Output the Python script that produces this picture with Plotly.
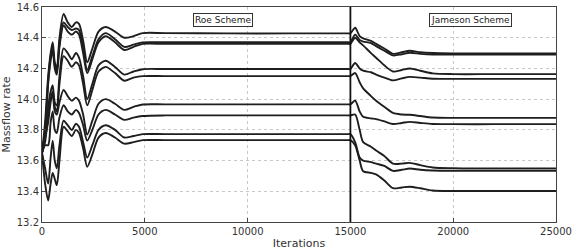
import plotly.graph_objects as go

# Iteration samples (Roe part then Jameson part)
ITERATIONS = [0, 150, 300, 420, 520, 620, 720, 850, 1050, 1250, 1450, 1650, 1800, 2000,
              2200, 2450, 2750, 3100, 3550, 4000, 4450, 4900, 6000, 9000, 12000, 14900,
              15000, 15230, 15450, 15620, 16000, 16250, 16650, 17070, 17500, 17890, 18400,
              19000, 20000, 22000, 25000]

SWITCH_ITER = 15000
X_TICKS = [0, 5000, 10000, 15000, 20000, 25000]
Y_TICKS = [13.2, 13.4, 13.6, 13.8, 14.0, 14.2, 14.4, 14.6]

series_a = [13.65, 13.85, 14.15, 14.30, 14.37, 14.24, 14.20, 14.40, 14.555, 14.50, 14.47, 14.50, 14.49, 14.38,
            14.24, 14.33, 14.44, 14.47, 14.44, 14.40, 14.41, 14.43, 14.43, 14.428, 14.428, 14.428,
            14.428, 14.465, 14.41, 14.395, 14.38, 14.36, 14.33, 14.295, 14.305, 14.315, 14.305, 14.30, 14.298, 14.298, 14.298]
series_b = [13.65, 13.80, 14.12, 14.28, 14.34, 14.22, 14.18, 14.36, 14.50, 14.47, 14.45, 14.46, 14.45, 14.33,
            14.19, 14.28, 14.39, 14.43, 14.39, 14.34, 14.355, 14.37, 14.37, 14.37, 14.37, 14.37,
            14.37, 14.42, 14.385, 14.375, 14.365, 14.345, 14.315, 14.285, 14.292, 14.302, 14.295, 14.29, 14.29, 14.29, 14.29]
series_c = [13.65, 13.78, 14.10, 14.25, 14.32, 14.20, 14.16, 14.34, 14.48, 14.44, 14.42, 14.44, 14.42, 14.30,
            14.17, 14.26, 14.37, 14.41, 14.37, 14.32, 14.34, 14.36, 14.36, 14.36, 14.36, 14.36,
            14.36, 14.40, 14.37, 14.35, 14.30, 14.27, 14.22, 14.18, 14.19, 14.20, 14.185, 14.168, 14.163, 14.163, 14.163]
series_d = [13.65, 13.75, 13.95, 14.05, 14.09, 13.98, 13.96, 14.15, 14.33, 14.30, 14.26, 14.30, 14.27, 14.15,
            14.00, 14.10, 14.22, 14.25, 14.21, 14.16, 14.18, 14.195, 14.196, 14.196, 14.196, 14.196,
            14.196, 14.235, 14.20, 14.185, 14.175, 14.16, 14.14, 14.122, 14.135, 14.145, 14.14, 14.133, 14.132, 14.132, 14.132]
series_e = [13.65, 13.72, 13.90, 14.00, 14.05, 13.95, 13.92, 14.10, 14.28, 14.25, 14.21, 14.24, 14.22, 14.10,
            13.96, 14.06, 14.18, 14.21, 14.17, 14.12, 14.14, 14.15, 14.15, 14.15, 14.15, 14.15,
            14.15, 14.17, 14.11, 14.07, 14.02, 13.99, 13.95, 13.91, 13.90, 13.898, 13.89, 13.88, 13.878, 13.878, 13.878]
series_f = [13.65, 13.75, 13.85, 13.98, 14.04, 13.92, 13.90, 13.98, 14.06, 14.02, 13.99, 14.01, 13.99, 13.90,
            13.77, 13.86, 13.97, 14.00, 13.97, 13.93, 13.95, 13.965, 13.966, 13.966, 13.966, 13.966,
            13.966, 13.99, 13.92, 13.885, 13.875, 13.87, 13.855, 13.838, 13.845, 13.852, 13.845, 13.838, 13.837, 13.837, 13.837]
series_g = [13.65, 13.70, 13.70, 13.85, 13.92, 13.80, 13.78, 13.88, 13.96, 13.92, 13.90, 13.93, 13.91, 13.83,
            13.73, 13.80, 13.90, 13.93, 13.90, 13.865, 13.88, 13.89, 13.894, 13.894, 13.894, 13.894,
            13.894, 13.90, 13.80, 13.72, 13.69, 13.665, 13.63, 13.58, 13.58, 13.585, 13.57, 13.555, 13.55, 13.548, 13.548]
series_h = [13.65, 13.55, 13.45, 13.62, 13.73, 13.60, 13.55, 13.70, 13.86, 13.83, 13.80, 13.84, 13.82, 13.72,
            13.62, 13.70, 13.80, 13.83, 13.80, 13.75, 13.76, 13.772, 13.772, 13.772, 13.772, 13.772,
            13.772, 13.72, 13.62, 13.60, 13.59, 13.58, 13.565, 13.533, 13.54, 13.548, 13.54, 13.535, 13.533, 13.533, 13.533]
series_i = [13.65, 13.45, 13.34, 13.45, 13.52, 13.48, 13.44, 13.60, 13.82, 13.79, 13.76, 13.80, 13.78, 13.68,
            13.56, 13.64, 13.75, 13.78, 13.75, 13.71, 13.72, 13.733, 13.733, 13.733, 13.733, 13.733,
            13.733, 13.70, 13.60, 13.53, 13.52, 13.51, 13.47, 13.42, 13.425, 13.43, 13.42, 13.405, 13.402, 13.402, 13.402]

ALL_SERIES = [series_a, series_b, series_c, series_d, series_e, series_f, series_g, series_h, series_i]

fig = go.Figure()
for s in ALL_SERIES:
    fig.add_trace(go.Scatter(x=ITERATIONS, y=s, mode="lines",
                             line=dict(color="#1e1e1e", width=1.9, shape="spline", smoothing=0.8),
                             showlegend=False, hoverinfo="skip"))

fig.add_vline(x=SWITCH_ITER, line=dict(color="#111111", width=1.8))

FONT = "DejaVu Sans"
fig.add_annotation(x=8800, y=14.515, text="Roe Scheme", showarrow=False,
                   font=dict(family=FONT, size=9, color="#222"),
                   bordercolor="#333", borderwidth=1, borderpad=1, bgcolor="white")
fig.add_annotation(x=20850, y=14.515, text="Jameson Scheme", showarrow=False,
                   font=dict(family=FONT, size=9, color="#222"),
                   bordercolor="#333", borderwidth=1, borderpad=1, bgcolor="white")

axis_common = dict(showline=True, linecolor="#444", linewidth=1, mirror=True,
                   showgrid=True, gridcolor="#c8c8c8", griddash="dot", gridwidth=1,
                   zeroline=False, ticks="inside", ticklen=4, tickcolor="#444",
                   automargin=False, ticklabeloverflow="allow",
                   tickfont=dict(family=FONT, size=10, color="#333"))

fig.update_layout(
    width=572, height=250,
    margin=dict(l=42, r=16, t=7, b=28),
    paper_bgcolor="white", plot_bgcolor="white",
    xaxis=dict(range=[0, 25000], tickvals=X_TICKS, ticktext=[str(v) for v in X_TICKS],
               title=dict(text="Iterations", font=dict(family=FONT, size=11, color="#333"), standoff=8),
               **axis_common),
    yaxis=dict(range=[13.2, 14.6], tickvals=Y_TICKS, ticktext=[f"{v:.1f}" for v in Y_TICKS],
               title=dict(text="Massflow rate", font=dict(family=FONT, size=11, color="#333"), standoff=6),
               **axis_common),
)

fig.write_html("out.html")
